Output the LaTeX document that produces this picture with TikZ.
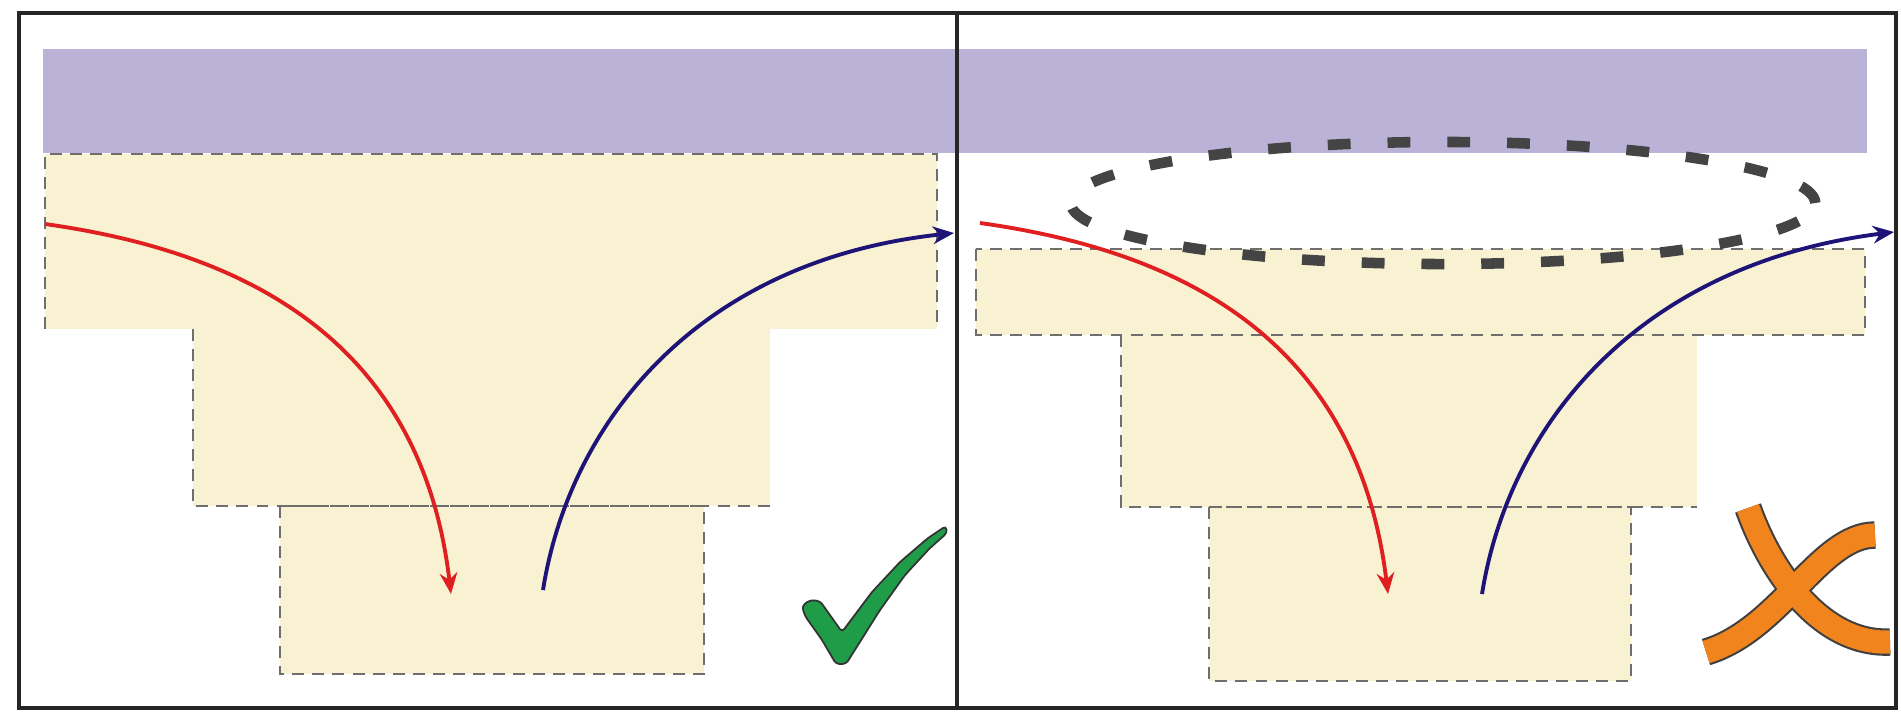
\documentclass[tikz,border=0pt]{standalone}
\usepackage{xcolor}
\usepackage{tikz}
\usetikzlibrary{arrows.meta}
\definecolor{bandpurple}{HTML}{BBB2D7}
\definecolor{stepyellow}{HTML}{F8F2D2}
\definecolor{edgegray}{HTML}{6E6E6E}
\definecolor{ringgray}{HTML}{444444}
\definecolor{flowred}{HTML}{E02020}
\definecolor{flowblue}{HTML}{1E1478}
\definecolor{okgreen}{HTML}{1E9C48}
\definecolor{badorange}{HTML}{F2841E}

\begin{document}
\begin{tikzpicture}[
  x=0.01cm, y=-0.01cm,
  stepedge/.style={draw=edgegray, line width=0.8pt, dash pattern=on 3.4pt off 2.3pt},
  ring/.style={draw=ringgray, line width=3pt, dash pattern=on 6.5pt off 10.5pt},
  flow/.style={line width=1.1pt, -{Stealth[length=6pt, width=5pt]}},
  frame/.style={draw=black!85, line width=0.9pt},
  crossline/.style={line width=#1, line cap=butt},
]
\useasboundingbox (0,0) rectangle (1901,712);

% --- Top band ---
\fill[bandpurple] (43,49) rectangle (1867,153);

% --- Left panel: stepped layers ---
\fill[stepyellow] (45,154) rectangle (937,329);
\fill[stepyellow] (193,329) rectangle (770,506);
\fill[stepyellow] (280,506) rectangle (704,674);
\draw[stepedge] (45,329) -- (45,154) -- (937,154) -- (937,329);
\draw[stepedge] (193,329) -- (193,506) -- (770,506);
\draw[stepedge] (280,506) rectangle (704,674);

% --- Right panel: stepped layers, gap below band ---
\fill[stepyellow] (976,249) rectangle (1865,335);
\fill[stepyellow] (1121,335) rectangle (1697,507);
\fill[stepyellow] (1209,507) rectangle (1631,681);
\draw[stepedge] (976,249) rectangle (1865,335);
\draw[stepedge] (1121,335) -- (1121,507) -- (1697,507);
\draw[stepedge] (1209,507) rectangle (1631,681);

% --- Gap marker ---
\draw[ring] (1443,203) ellipse [x radius=3.72cm, y radius=0.61cm];

% --- Flows ---
\coordinate (lin)  at (45,224);
\coordinate (ldn)  at (451,594);
\coordinate (lup)  at (543,590);
\coordinate (lout) at (954,233);
\coordinate (rin)  at (980,223);
\coordinate (rdn)  at (1388,594);
\coordinate (rup)  at (1482,594);
\coordinate (rout) at (1894,232);

\draw[flow, flowred]  (lin) .. controls (230,250) and (420,330) .. (ldn);
\draw[flow, flowblue] (lup) .. controls (570,420) and (700,260) .. (lout);
\draw[flow, flowred]  (rin) .. controls (1166,249) and (1356,329) .. (rdn);
\draw[flow, flowblue] (rup) .. controls (1509,424) and (1639,264) .. (rout);

% --- Check mark ---
\filldraw[fill=okgreen, draw=black!80, line width=0.5pt, rounded corners=1pt]
  (802,606) -- (810,600) -- (820,601) -- (842,632) -- (872,592) -- (900,562)
  -- (928,538) -- (946,526) -- (947,533) -- (930,548) -- (905,575)
  -- (880,610) -- (858,645) -- (846,664) -- (836,664) -- (822,640)
  -- (805,616) -- cycle;

% --- Cross ---
\draw[crossline=7.8pt, draw=black!75]
  (1748,508) .. controls (1770,570) and (1820,645) .. (1890,642);
\draw[crossline=7.8pt, draw=black!75]
  (1875,535) .. controls (1820,535) and (1780,630) .. (1706,652);
\draw[crossline=6.6pt, draw=badorange]
  (1748,508) .. controls (1770,570) and (1820,645) .. (1890,642);
\draw[crossline=6.6pt, draw=badorange]
  (1875,535) .. controls (1820,535) and (1780,630) .. (1706,652);

% --- Frame ---
\draw[frame] (19,13) rectangle (1896,708);
\draw[frame] (957,13) -- (957,708);

\end{tikzpicture}
\end{document}
